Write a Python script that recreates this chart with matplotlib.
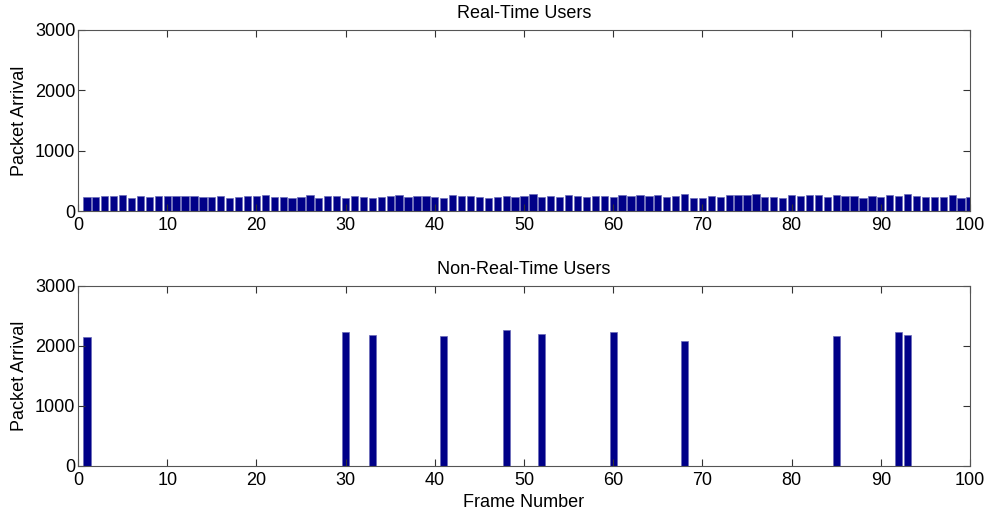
import matplotlib
matplotlib.use("Agg")
import matplotlib.pyplot as plt
import numpy as np

plt.rcParams['font.family'] = ['Liberation Sans', 'DejaVu Sans']

frames = list(range(1, 101))
rt_users = [232, 232, 249, 249, 271, 221, 249, 232, 249, 249,
            249, 249, 249, 232, 232, 249, 221, 232, 249, 249,
            271, 232, 232, 221, 232, 271, 221, 249, 249, 221,
            249, 232, 221, 232, 249, 265, 232, 249, 249, 232,
            221, 260, 249, 249, 232, 221, 232, 249, 232, 249,
            277, 232, 249, 232, 271, 249, 232, 249, 249, 232,
            271, 249, 260, 249, 265, 232, 249, 280, 221, 221,
            249, 232, 260, 265, 265, 277, 232, 232, 221, 260,
            249, 260, 260, 232, 260, 249, 249, 221, 249, 232,
            265, 249, 277, 249, 232, 232, 232, 260, 221, 232]

nrt_frames = [1, 30, 33, 41, 48, 52, 60, 68, 85, 92, 93]
nrt_values = [2150, 2240, 2190, 2160, 2260, 2200, 2230, 2090, 2160, 2240, 2190]

xticks = [0, 10, 20, 30, 40, 50, 60, 70, 80, 90, 100]
yticks = [0, 1000, 2000, 3000]

fig = plt.figure(figsize=(9.92, 5.15), dpi=100)
W, H = 992, 515
ax1 = fig.add_axes([78 / W, 1 - 211 / H, (970 - 78) / W, (211 - 30) / H])
ax2 = fig.add_axes([78 / W, 1 - 466 / H, (970 - 78) / W, (466 - 286) / H])

face = '#000088'
edge = '#6a6ab8'
ax1.bar(frames, rt_users, width=0.82, color=face, edgecolor=edge, linewidth=0.5)
ax2.bar(nrt_frames, nrt_values, width=0.82, color=face, edgecolor=edge, linewidth=0.5)

fs = 13
for ax, title in [(ax1, 'Real-Time Users'), (ax2, 'Non-Real-Time Users')]:
    ax.set_xlim(0, 100)
    ax.set_ylim(0, 3000)
    ax.set_xticks(xticks)
    ax.set_yticks(yticks)
    ax.tick_params(direction='in', top=True, right=True, length=5, width=0.8,
                   labelsize=fs, color='#333333', pad=2)
    ax.tick_params(axis='x', pad=4)
    for s in ax.spines.values():
        s.set_color('#555555')
        s.set_linewidth(0.8)
    ax.set_ylabel('Packet Arrival', fontsize=fs)
    ax.yaxis.set_label_coords(-0.056, 0.5)
    ax.set_title(title, fontsize=fs, pad=9)

ax2.set_xlabel('Frame Number', fontsize=fs, labelpad=4)

fig.savefig('out.png', dpi=100)
